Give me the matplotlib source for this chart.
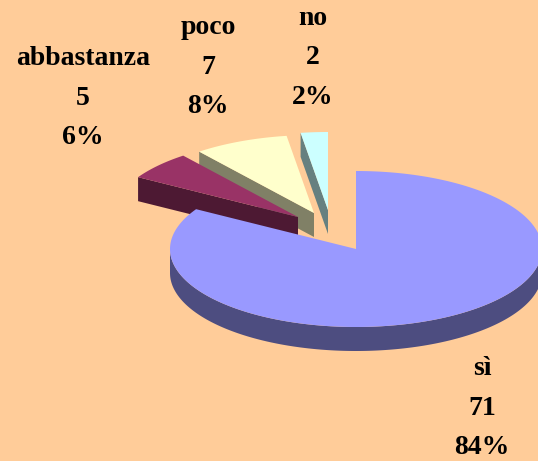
import numpy as np
import matplotlib
matplotlib.use('Agg')
import matplotlib.pyplot as plt
from matplotlib.patches import Polygon

labels = ['sì', 'abbastanza', 'poco', 'no']
values = [71, 5, 7, 2]

top_colors = ['#9999FF', '#993366', '#FFFFCC', '#CCFFFF']
side_colors = ['#4D4D80', '#4D1933', '#808066', '#668080']

# pie geometry, in pixels of the picture
cx, cy = 356, 249
rx, ry = 186, 78
depth = 24
offsets = [(0, 0), (-58, -32), (-42, -36), (-28, -39)]
label_pos = [(482, 408), (83, 98), (208, 67), (313, 58)]

fig = plt.figure(figsize=(5.38, 4.61), dpi=100, facecolor='#FFCC99')
ax = fig.add_axes([0, 0, 1, 1])
ax.set_xlim(0, 538)
ax.set_ylim(461, 0)
ax.axis('off')

total = sum(values)
angles = np.cumsum([0] + values) / total * 2 * np.pi


def arc(a0, a1, ox, oy):
    t = np.linspace(a0, a1, 200)
    return np.column_stack([cx + ox + rx * np.sin(t), cy + oy - ry * np.cos(t)])


# back slices first, the big one goes on top of them
for i in [3, 2, 1, 0]:
    ox, oy = offsets[i]
    a0, a1 = angles[i], angles[i + 1]
    apex = np.array([[cx + ox, cy + oy]])
    rim = arc(a0, a1, ox, oy)

    if i == 0:
        front = arc(np.pi / 2, np.pi * 3 / 2, ox, oy)
        wall = np.vstack([front, (front + [0, depth])[::-1]])
    else:
        # cut face between the apex and the left end of the arc
        edge = np.vstack([apex, rim[:1]])
        wall = np.vstack([edge, (edge + [0, depth])[::-1]])
    ax.add_patch(Polygon(wall, closed=True, fc=side_colors[i], ec='none'))
    ax.add_patch(Polygon(np.vstack([apex, rim]), closed=True, fc=top_colors[i], ec='none'))

for i in range(len(values)):
    pct = round(values[i] / total * 100)
    txt = '%s\n%d\n%d%%' % (labels[i], values[i], pct)
    ax.text(label_pos[i][0], label_pos[i][1], txt, ha='center', va='center',
            family='Liberation Serif', fontweight='bold', fontsize=20,
            linespacing=1.76, color='black')

fig.savefig('out.png', dpi=100, facecolor=fig.get_facecolor())
